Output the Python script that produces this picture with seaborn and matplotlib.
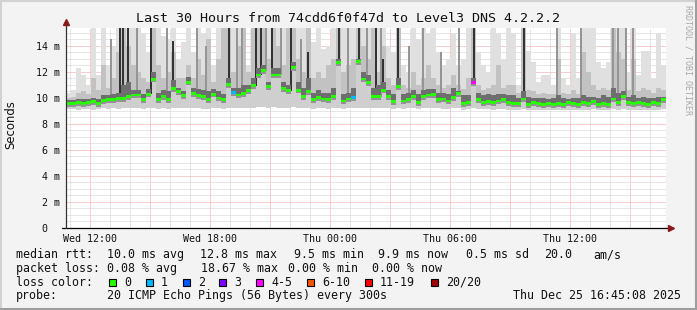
import numpy as np
import matplotlib
matplotlib.use("Agg")
import matplotlib.pyplot as plt
import seaborn as sns
import pandas as pd
from matplotlib.patches import Rectangle
from matplotlib.lines import Line2D

# ---------------- data (15-minute bins, hours since Wed 00:00) ----------------
start_hour = 10.8
bin_hours = 0.25

median_ms = [
    9.59, 9.59, 9.62, 9.59, 9.62, 9.72, 9.59, 9.80, 9.85, 9.85, 9.97, 9.97, 10.10, 10.23, 10.23,
    9.85, 10.30, 11.45, 9.85, 10.10, 9.85, 10.74, 10.49, 10.18, 11.21, 10.36, 10.18, 10.10, 9.85, 10.30,
    10.00, 9.85, 11.05, 10.40, 10.23, 10.36, 10.56, 10.95, 11.77, 12.08, 10.90, 11.77, 11.77, 10.74, 10.56,
    12.36, 10.60, 10.10, 10.50, 9.85, 10.03, 9.92, 9.85, 10.10, 12.74, 9.77, 9.92, 10.03, 12.79, 11.46,
    11.20, 10.10, 10.10, 10.60, 10.10, 9.72, 10.87, 9.77, 9.85, 10.10, 9.67, 10.10, 10.23, 10.28, 9.85,
    9.92, 9.77, 10.03, 10.36, 9.59, 9.67, 11.18, 9.85, 9.67, 9.72, 9.67, 9.77, 9.85, 9.67, 9.59,
    9.59, 9.92, 9.51, 9.67, 9.59, 9.51, 9.59, 9.51, 9.59, 9.51, 9.67, 9.59, 9.51, 9.67, 9.59,
    9.72, 9.51, 9.59, 9.51, 9.92, 9.67, 10.10, 9.67, 9.59, 9.67, 9.59, 9.51, 9.67, 9.59, 9.85,
]
min_ms = [
    9.15, 9.15, 9.10, 9.15, 9.15, 9.10, 9.15, 9.20, 9.15, 9.20, 9.15, 9.20, 9.20, 9.25, 9.20,
    9.15, 9.20, 9.20, 9.15, 9.20, 9.15, 9.25, 9.20, 9.20, 9.25, 9.20, 9.20, 9.15, 9.15, 9.20,
    9.20, 9.15, 9.25, 9.20, 9.25, 9.20, 9.25, 9.25, 9.30, 9.30, 9.25, 9.30, 9.25, 9.25, 9.20,
    9.30, 9.25, 9.20, 9.25, 9.15, 9.20, 9.20, 9.15, 9.20, 9.25, 9.15, 9.20, 9.20, 9.25, 9.25,
    9.25, 9.20, 9.25, 9.25, 9.20, 9.15, 9.25, 9.15, 9.20, 9.20, 9.15, 9.20, 9.20, 9.25, 9.20,
    9.15, 9.15, 9.20, 9.20, 9.10, 9.15, 9.20, 9.15, 9.15, 9.15, 9.10, 9.15, 9.15, 9.10, 9.10,
    9.10, 9.15, 9.05, 9.10, 9.10, 9.05, 9.10, 9.05, 9.10, 9.05, 9.10, 9.10, 9.05, 9.10, 9.10,
    9.15, 9.05, 9.10, 9.05, 9.15, 9.10, 9.15, 9.10, 9.05, 9.10, 9.10, 9.05, 9.10, 9.10, 9.15,
]
p75_ms = [
    9.85, 9.85, 9.90, 9.90, 9.95, 10.0, 9.95, 10.2, 10.2, 10.3, 10.4, 11.0, 11.2, 10.6, 10.6,
    10.3, 10.7, 12.0, 10.4, 10.6, 10.5, 11.4, 10.8, 10.5, 11.6, 10.8, 10.7, 10.6, 10.5, 10.7,
    10.5, 10.3, 11.5, 10.8, 10.8, 11.0, 11.0, 11.5, 12.3, 12.5, 11.2, 12.3, 12.3, 11.2, 11.0,
    12.8, 11.2, 10.8, 11.5, 10.4, 10.6, 10.4, 10.4, 10.8, 13.0, 10.3, 10.4, 10.8, 13.0, 12.0,
    11.8, 10.8, 11.0, 11.2, 10.6, 10.3, 11.5, 10.3, 10.4, 10.6, 10.3, 10.6, 10.7, 10.7, 10.4,
    10.4, 10.3, 10.8, 10.5, 10.2, 10.2, 11.5, 10.4, 10.2, 10.3, 10.2, 10.3, 10.3, 10.2, 10.2,
    10.0, 10.5, 10.1, 10.0, 10.0, 10.0, 9.95, 10.0, 10.2, 10.0, 9.95, 10.0, 10.0, 10.2, 10.1,
    10.1, 10.0, 10.2, 10.1, 10.8, 10.4, 10.5, 10.1, 10.2, 10.0, 10.1, 10.0, 10.0, 10.1, 10.1,
]
p90_ms = [
    10.0, 10.1, 10.4, 10.5, 10.3, 11.5, 10.6, 12.5, 10.8, 11.5, 13.5, 15.5, 14.0, 12.5, 12.0,
    11.5, 11.2, 15.5, 12.5, 11.5, 12.0, 13.5, 11.5, 11.5, 12.5, 11.5, 13.0, 11.8, 14.5, 11.2,
    13.0, 15.5, 15.5, 12.0, 14.0, 15.5, 12.0, 15.5, 15.5, 15.5, 13.0, 15.5, 14.0, 12.5, 15.5,
    15.5, 13.0, 12.0, 15.5, 11.5, 12.0, 11.5, 12.5, 13.0, 15.5, 12.0, 12.5, 13.0, 15.5, 14.0,
    13.0, 15.5, 12.0, 14.0, 11.5, 11.0, 15.5, 11.0, 10.8, 12.0, 11.0, 11.5, 12.5, 11.5, 11.0,
    10.8, 11.0, 11.8, 11.0, 10.7, 11.5, 15.5, 11.0, 10.6, 10.8, 11.0, 12.5, 10.8, 11.0, 11.0,
    10.4, 15.5, 10.6, 10.5, 10.3, 10.4, 10.3, 10.3, 13.0, 10.4, 10.3, 10.6, 10.3, 13.5, 12.0,
    11.0, 10.6, 10.8, 10.6, 15.5, 13.5, 13.0, 10.6, 13.0, 10.5, 10.8, 10.6, 10.4, 10.8, 10.6,
]
max_ms = [
    10.4, 10.6, 12.3, 11.8, 11.0, 15.5, 11.8, 15.5, 12.5, 14.0, 15.5, 15.5, 15.5, 15.5, 15.5,
    15.0, 13.5, 15.5, 15.5, 14.8, 14.5, 15.5, 13.0, 14.3, 15.5, 13.5, 15.5, 15.0, 15.5, 12.5,
    15.5, 15.5, 15.5, 15.5, 15.5, 15.5, 12.5, 15.5, 15.5, 15.5, 15.5, 15.5, 15.5, 15.5, 15.5,
    15.5, 15.5, 15.5, 15.5, 14.3, 15.5, 13.8, 14.0, 15.5, 15.5, 15.5, 15.5, 15.5, 15.5, 15.5,
    15.5, 15.5, 15.5, 15.5, 14.0, 13.5, 15.5, 12.5, 12.0, 15.5, 14.5, 15.5, 15.0, 15.5, 13.5,
    12.5, 13.0, 15.0, 12.5, 13.0, 15.5, 15.5, 13.5, 12.5, 12.0, 15.5, 15.0, 13.0, 15.5, 15.0,
    11.0, 15.5, 13.6, 12.8, 11.2, 11.8, 11.8, 11.0, 15.5, 11.5, 11.0, 15.0, 11.5, 15.5, 15.5,
    15.5, 12.8, 12.3, 12.8, 15.5, 15.5, 15.5, 12.0, 15.5, 11.8, 13.6, 13.6, 11.5, 15.0, 12.5,
]
# thin 5-minute streaks where most pings were slow
dark_streak_hours = [13.45, 13.6, 13.85, 15.0, 16.1, 18.9, 20.25, 20.5, 21.05, 22.0, 22.85,
                     24.4, 25.4, 26.25, 26.6, 27.35, 31.15, 33.65]
dark_streak_top = [15.5, 15.5, 15.5, 15.5, 14.4, 15.5, 15.5, 15.5, 15.5, 15.5, 13.5,
                   15.5, 15.5, 15.5, 13.0, 15.5, 15.5, 15.5]
mid_streak_hours = [13.0, 14.3, 15.8, 17.3, 17.75, 19.3, 19.55, 20.75, 21.5, 22.5, 24.85,
                    25.8, 26.5, 27.9, 28.6, 29.5, 30.4, 35.3, 36.5, 38.1, 38.35, 38.75, 39.1]
mid_streak_top = [14.5, 15.5, 15.5, 15.5, 14.0, 15.5, 15.5, 15.5, 15.5, 14.5, 15.5,
                  15.5, 15.5, 14.0, 15.5, 13.5, 15.5, 15.5, 15.5, 15.5, 15.5, 15.5, 15.5]

loss_bins = [33, 57, 81]
loss_counts = [1, 1, 4]

loss_labels = ["0", "1", "2", "3", "4-5", "6-10", "11-19", "20/20"]
loss_colors = ["#26ff00", "#00b8ff", "#0059ff", "#7e00ff", "#ff00ff", "#ff5500", "#ff0000", "#a10000"]

x_tick_hours = [12, 18, 24, 30, 36]
x_tick_labels = ["Wed 12:00", "Wed 18:00", "Thu 00:00", "Thu 06:00", "Thu 12:00"]
y_tick_values = [0, 2, 4, 6, 8, 10, 12, 14]
y_tick_labels = ["0  ", "2 m", "4 m", "6 m", "8 m", "10 m", "12 m", "14 m"]

title = "Last 30 Hours from 74cdd6f0f47d to Level3 DNS 4.2.2.2"

# ---------------- figure ----------------
sns.set_theme(style="white")
plt.rcParams['font.family'] = ['DejaVu Sans Mono', 'DejaVu Sans']
MONO = 'DejaVu Sans Mono'

W, H = 697, 310
fig = plt.figure(figsize=(W / 100, H / 100), dpi=100, facecolor='#f3f3f3')
ax_left, ax_right, ax_bottom, ax_top = 66, 666, 228, 27.5
ax = fig.add_axes([ax_left / W, (H - ax_bottom) / H, (ax_right - ax_left) / W, (ax_bottom - ax_top) / H])
ax.set_facecolor('white')
ymax = 15.42
n = len(median_ms)
xmin = start_hour
xmax = start_hour + bin_hours * n
ax.set_xlim(xmin, xmax)
ax.set_ylim(0, ymax)

t = start_hour + bin_hours * np.arange(n)
med = np.array(median_ms)
lo = np.array(min_ms)
p75 = np.maximum(np.array(p75_ms), med)
p90 = np.maximum(np.array(p90_ms), p75)
top = np.maximum(np.array(max_ms), p90)

bar_kw = dict(align='edge', linewidth=0, antialiased=False)
# smoke: light outer, mid, dark inner
ax.bar(t, top - lo, bottom=lo, width=bin_hours, color='#e0e0e0', zorder=1, **bar_kw)
ax.bar(t, p90 - med, bottom=med, width=bin_hours, color='#c2c2c2', zorder=2, **bar_kw)
ax.bar(t, med - lo, bottom=lo, width=bin_hours, color='#cfcfcf', zorder=2, **bar_kw)

streak_w = bin_hours / 3
mid_idx = ((np.array(mid_streak_hours) - start_hour) // bin_hours).astype(int)
ax.bar(mid_streak_hours, np.array(mid_streak_top) - med[mid_idx], bottom=med[mid_idx],
       width=streak_w, color='#959595', zorder=3, **bar_kw)
dark_idx = ((np.array(dark_streak_hours) - start_hour) // bin_hours).astype(int)
ax.bar(dark_streak_hours, np.array(dark_streak_top) - med[dark_idx], bottom=med[dark_idx],
       width=streak_w, color='#333333', zorder=3, **bar_kw)

ax.bar(t, p75 - med, bottom=med, width=bin_hours, color='#6e6e6e', zorder=3, **bar_kw)
ax.bar(t, np.full(n, 0.25), bottom=med - 0.25, width=bin_hours, color='#939393', zorder=3, **bar_kw)

# median marks coloured by loss
loss_per_bin = np.zeros(n, dtype=int)
for b, c in zip(loss_bins, loss_counts):
    loss_per_bin[b] = c

def loss_cat(c):
    if c <= 3:
        return loss_labels[c]
    if c <= 5:
        return "4-5"
    if c <= 10:
        return "6-10"
    if c <= 19:
        return "11-19"
    return "20/20"

df = pd.DataFrame({"t": t + bin_hours / 2, "med": med,
                   "loss": [loss_cat(c) for c in loss_per_bin]})
marker = [(-1, -0.6), (1, -0.6), (1, 0.6), (-1, 0.6), (-1, -0.6)]
sns.scatterplot(data=df, x="t", y="med", hue="loss",
                palette=dict(zip(loss_labels, loss_colors)),
                marker=marker, s=12, linewidth=0, legend=False, ax=ax, zorder=6)
ax.set_xlabel("")
ax.set_ylabel("")

# grid
major_x = np.arange(12, 40, 3)
minor_x = np.arange(11, 41, 1)
ax.set_xticks(major_x)
ax.set_xticklabels([x_tick_labels[x_tick_hours.index(h)] if h in x_tick_hours else "" for h in major_x])
ax.set_xticks(minor_x, minor=True)
ax.set_yticks(y_tick_values)
ax.set_yticklabels(y_tick_labels)
ax.set_yticks(np.arange(0.5, 15.5, 0.5), minor=True)
ax.set_axisbelow(True)
ax.grid(which='minor', color='#cfcfcf', linestyle=(0, (1, 1)), linewidth=0.72)
ax.grid(which='major', color='#f2a0a0', linestyle=(0, (1, 1)), linewidth=0.72)
ax.tick_params(which='both', direction='out', length=2, width=0.7, color='#606060')
ax.tick_params(axis='y', which='major', labelsize=7.2, pad=2.3, labelcolor='#111111')
ax.tick_params(axis='x', which='major', labelsize=7.2, pad=2.0, labelcolor='#111111')
for lab in ax.get_xticklabels() + ax.get_yticklabels():
    lab.set_family(MONO)

for s in ax.spines.values():
    s.set_visible(False)

# axes lines with arrows
xr = (671 - ax_left) / (ax_right - ax_left)
ya = (ax_bottom - 22) / (ax_bottom - ax_top)
xl = (62 - ax_left) / (ax_right - ax_left)
ax.plot([xl, xr], [0, 0], transform=ax.transAxes, color='black', lw=0.9, clip_on=False, zorder=8)
ax.plot([0, 0], [0, ya], transform=ax.transAxes, color='#333333', lw=0.9, clip_on=False, zorder=8)
ax.plot([xr], [0], transform=ax.transAxes, marker='>', ms=4.5, color='#8b1a1a', mec='#8b1a1a',
        clip_on=False, zorder=9)
ax.plot([0], [ya], transform=ax.transAxes, marker='^', ms=4.5, color='#8b1a1a', mec='#8b1a1a',
        clip_on=False, zorder=9)

# ---------------- texts ----------------
def ftext(x, y, s, **kw):
    kw.setdefault('family', MONO)
    kw.setdefault('fontsize', 8.4)
    kw.setdefault('color', '#111111')
    kw.setdefault('va', 'center')
    kw.setdefault('ha', 'left')
    fig.text(x / W, 1 - y / H, s, **kw)

ftext(347.5, 19, title, fontsize=9.6, ha='center')
ftext(11, 125, "Seconds", family='DejaVu Sans', fontsize=8.4, rotation=90, ha='center')
ftext(688, 60, "RRDTOOL / TOBI OETIKER", fontsize=6.0, rotation=270, ha='center', color='#a8a8a8')

row1 = [(16, "median rtt:"), (107.3, "10.0 ms avg"), (200, "12.8 ms max"), (293.5, "9.5 ms min"),
        (378.3, "9.9 ms now"), (465.7, "0.5 ms sd"), (544.3, "20.0"), (593.3, "am/s")]
row2 = [(16, "packet loss:"), (107.3, "0.08 % avg"), (201, "18.67 % max"), (287.5, "0.00 % min"),
        (372.3, "0.00 % now")]
row4 = [(16, "probe:"), (107.3, "20 ICMP Echo Pings (56 Bytes) every 300s"),
        (513.3, "Thu Dec 25 16:45:08 2025")]
for x, s in row1:
    ftext(x, 254.7, s)
for x, s in row2:
    ftext(x, 268.3, s)
ftext(16, 282, "loss color:")
for x, s in row4:
    ftext(x, 295.7, s)

box_x = [109, 146, 183, 219, 256, 307, 365, 431]
for bx, lab, col in zip(box_x, loss_labels, loss_colors):
    fig.add_artist(Rectangle((bx / W, 1 - 285.5 / H), 7 / W, 7 / H, transform=fig.transFigure,
                             facecolor=col, edgecolor='black', linewidth=0.8))
    ftext(bx + 15, 282, lab)

# frame (3D look)
fig.add_artist(Line2D([0, 1], [1 - 1 / H, 1 - 1 / H], transform=fig.transFigure, color='#d2d2d2', lw=1.5))
fig.add_artist(Line2D([1 / W, 1 / W], [0, 1], transform=fig.transFigure, color='#d2d2d2', lw=1.5))
fig.add_artist(Line2D([0, 1], [1.5 / H, 1.5 / H], transform=fig.transFigure, color='#9e9e9e', lw=2.2))
fig.add_artist(Line2D([1 - 1.5 / W, 1 - 1.5 / W], [0, 1], transform=fig.transFigure, color='#9e9e9e', lw=2.2))

fig.savefig("out.png", dpi=100, facecolor=fig.get_facecolor())
